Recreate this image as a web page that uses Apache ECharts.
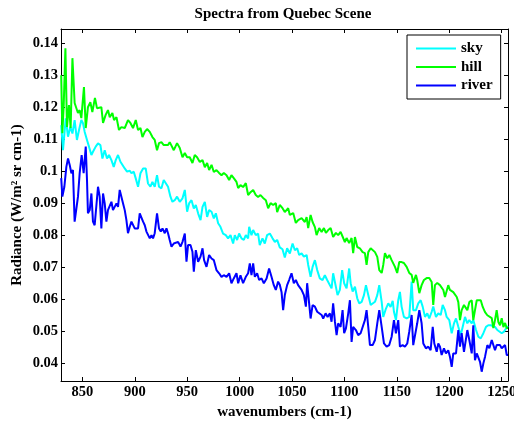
<!DOCTYPE html>
<html><head><meta charset="utf-8">
<script src="https://cdn.jsdelivr.net/npm/echarts@6/dist/echarts.min.js"></script>
<style>html,body{margin:0;padding:0;background:#fff}#c{width:514px;height:421px}</style>
</head><body><div id="c"></div>
<script>
const titleText = 'Spectra from Quebec Scene';
const xName = 'wavenumbers (cm-1)';
const yName = 'Radiance (W/m² sr cm-1)';
const seriesNames = ['sky', 'hill', 'river'];
const xTicks = [850, 900, 950, 1000, 1050, 1100, 1150, 1200, 1250];
const yTicks = [0.04, 0.05, 0.06, 0.07, 0.08, 0.09, 0.1, 0.11, 0.12, 0.13, 0.14];

const sky = [[829.8,0.1143],[831.5,0.1065],[834.1,0.1164],[836.3,0.1107],[838.5,0.1138],[840.5,0.1117],[842.6,0.1159],[844.8,0.1097],[846.8,0.1128],[849.0,0.1159],[850.6,0.1149],[852.2,0.1122],[854.4,0.1097],[856.3,0.1076],[858.6,0.105],[860.1,0.106],[862.7,0.1076],[864.9,0.1086],[867.2,0.1081],[869.1,0.1039],[871.3,0.1065],[873.5,0.1039],[875.4,0.105],[877.7,0.1034],[879.9,0.1013],[881.8,0.1034],[884.0,0.105],[886.3,0.1029],[888.2,0.1024],[890.4,0.1008],[892.6,0.0998],[895.2,0.1001],[896.8,0.0993],[899.0,0.0998],[900.9,0.0977],[903.1,0.0951],[905.4,0.0993],[907.9,0.1008],[910.4,0.1008],[912.6,0.0961],[914.9,0.0951],[916.8,0.0966],[919.0,0.0951],[921.2,0.0987],[923.1,0.0951],[925.4,0.0946],[927.6,0.0972],[929.5,0.0977],[931.7,0.0951],[934.0,0.092],[935.9,0.0904],[938.1,0.0909],[940.3,0.092],[942.9,0.0904],[945.5,0.0915],[947.7,0.0941],[949.9,0.0873],[951.8,0.0899],[954.1,0.0909],[956.3,0.0883],[958.2,0.0894],[960.4,0.0868],[962.7,0.0847],[964.6,0.0888],[966.8,0.0904],[969.0,0.0857],[970.9,0.0878],[973.2,0.0873],[975.4,0.0852],[977.3,0.0868],[979.5,0.0837],[981.7,0.0826],[984.2,0.0805],[986.8,0.08],[989.0,0.079],[991.3,0.08],[993.8,0.0774],[995.4,0.08],[997.6,0.0785],[999.5,0.0805],[1001.8,0.079],[1004.0,0.0785],[1005.9,0.08],[1008.1,0.079],[1009.1,0.0826],[1011.3,0.08],[1012.9,0.0816],[1015.4,0.08],[1017.6,0.0805],[1019.2,0.0769],[1021.8,0.079],[1024.0,0.0774],[1026.2,0.08],[1028.8,0.0805],[1031.4,0.079],[1033.6,0.0779],[1035.8,0.0785],[1038.3,0.0762],[1040.9,0.0756],[1043.1,0.073],[1045.3,0.0759],[1047.9,0.0743],[1050.5,0.0774],[1052.7,0.0753],[1054.9,0.0759],[1056.8,0.0738],[1059.1,0.0743],[1061.3,0.0733],[1063.9,0.0738],[1065.4,0.0707],[1067.7,0.067],[1069.6,0.0701],[1071.8,0.0722],[1074.0,0.0691],[1076.5,0.0665],[1079.1,0.066],[1081.3,0.0675],[1083.5,0.066],[1085.4,0.0665],[1087.7,0.0634],[1089.2,0.0681],[1091.5,0.0644],[1093.4,0.0613],[1095.6,0.0629],[1097.8,0.0691],[1099.7,0.065],[1102.0,0.0634],[1104.5,0.0696],[1105.9,0.065],[1107.8,0.0624],[1110.0,0.0639],[1112.2,0.0603],[1114.1,0.0587],[1116.4,0.0592],[1118.6,0.0613],[1120.5,0.0644],[1122.7,0.0613],[1125.0,0.0582],[1126.9,0.0587],[1129.1,0.0592],[1131.3,0.0613],[1133.2,0.0644],[1135.5,0.0592],[1137.0,0.0545],[1139.6,0.0571],[1141.8,0.0587],[1144.0,0.0576],[1146.0,0.0595],[1147.2,0.0561],[1149.1,0.0535],[1151.3,0.0597],[1152.9,0.0623],[1154.5,0.0577],[1156.7,0.0545],[1159.3,0.054],[1161.8,0.0545],[1164.1,0.0655],[1165.6,0.0566],[1168.2,0.0566],[1170.4,0.0587],[1172.7,0.0597],[1174.6,0.0577],[1176.8,0.0545],[1179.0,0.0556],[1180.9,0.054],[1183.2,0.0561],[1184.7,0.0577],[1187.3,0.0545],[1189.5,0.0556],[1191.8,0.0551],[1193.7,0.0582],[1195.9,0.0566],[1197.5,0.0545],[1200.0,0.0535],[1202.3,0.0494],[1204.5,0.0525],[1206.4,0.054],[1208.6,0.0514],[1210.9,0.0488],[1212.8,0.0514],[1215.0,0.0545],[1217.2,0.0525],[1219.1,0.0535],[1221.4,0.0525],[1222.9,0.0535],[1225.5,0.0504],[1227.7,0.0483],[1230.0,0.0478],[1232.5,0.0494],[1235.0,0.0514],[1237.2,0.0519],[1239.5,0.0519],[1241.4,0.0525],[1243.6,0.0514],[1245.8,0.0504],[1247.7,0.0499],[1250.0,0.0494],[1252.2,0.0499],[1254.1,0.0509],[1256.0,0.0516]];

const hill = [[829.8,0.1299],[830.9,0.1118],[832.2,0.1206],[833.8,0.1383],[835.3,0.1137],[837.2,0.1206],[838.8,0.1134],[840.5,0.1352],[842.6,0.1212],[844.3,0.1206],[845.8,0.1181],[847.4,0.119],[849.0,0.1165],[851.5,0.1262],[853.2,0.1134],[855.3,0.1199],[857.6,0.1215],[859.5,0.1184],[862.0,0.1228],[863.9,0.1196],[865.8,0.119],[868.1,0.1199],[869.7,0.115],[872.2,0.1175],[874.4,0.119],[876.1,0.1168],[878.6,0.1181],[880.2,0.1159],[882.5,0.1168],[884.9,0.1128],[887.2,0.1137],[890.4,0.1134],[893.5,0.1159],[895.8,0.115],[898.3,0.1134],[900.9,0.1159],[903.1,0.1128],[905.4,0.1134],[907.3,0.1106],[909.5,0.1122],[911.7,0.1131],[914.3,0.1122],[916.8,0.1106],[919.0,0.1097],[921.2,0.1065],[923.1,0.1087],[925.4,0.109],[927.6,0.1081],[929.5,0.1087],[931.7,0.1081],[933.3,0.109],[935.0,0.1094],[937.2,0.1065],[940.3,0.1087],[942.9,0.1072],[945.5,0.1043],[947.7,0.1056],[949.9,0.1043],[952.4,0.1043],[955.0,0.1025],[957.2,0.105],[959.4,0.1043],[962.0,0.1028],[964.6,0.1034],[966.8,0.1012],[969.0,0.1025],[970.9,0.1003],[973.2,0.1019],[975.4,0.0997],[977.9,0.1003],[980.4,0.0994],[982.7,0.0987],[984.9,0.0994],[987.5,0.0987],[990.0,0.0972],[992.2,0.0987],[994.4,0.0978],[997.0,0.0966],[998.6,0.0947],[1000.8,0.0956],[1003.3,0.095],[1005.9,0.0962],[1008.1,0.0925],[1010.4,0.0934],[1012.9,0.0941],[1015.4,0.0925],[1017.6,0.0919],[1019.9,0.0925],[1022.4,0.0916],[1025.0,0.0909],[1027.2,0.0884],[1029.5,0.09],[1032.0,0.0894],[1034.5,0.09],[1035.8,0.0872],[1038.3,0.0894],[1040.9,0.0884],[1043.1,0.0872],[1046.3,0.0884],[1047.9,0.0863],[1051.1,0.0869],[1053.6,0.0838],[1055.8,0.0847],[1059.1,0.0853],[1062.2,0.0841],[1063.9,0.0856],[1065.4,0.0822],[1067.7,0.0863],[1069.6,0.0841],[1071.8,0.0825],[1073.4,0.08],[1075.9,0.0822],[1078.2,0.081],[1080.4,0.0822],[1082.3,0.0807],[1084.5,0.0816],[1086.8,0.0822],[1089.2,0.0794],[1091.8,0.0807],[1094.0,0.08],[1096.3,0.081],[1098.8,0.0791],[1100.4,0.0778],[1102.0,0.0791],[1104.5,0.0775],[1106.8,0.0791],[1108.3,0.0744],[1110.0,0.0794],[1112.2,0.0763],[1114.7,0.0759],[1117.3,0.0747],[1119.5,0.0744],[1121.1,0.0707],[1122.7,0.0747],[1125.0,0.0759],[1126.9,0.0753],[1129.1,0.0747],[1131.3,0.0732],[1133.2,0.0691],[1135.5,0.0682],[1137.0,0.0707],[1138.6,0.0744],[1140.8,0.0728],[1142.8,0.0738],[1145.0,0.0722],[1148.2,0.0701],[1150.3,0.0682],[1152.3,0.0716],[1154.5,0.0716],[1156.7,0.0713],[1159.3,0.0701],[1161.8,0.0682],[1164.1,0.0676],[1165.6,0.0651],[1168.2,0.0676],[1169.4,0.066],[1171.4,0.0619],[1173.6,0.0644],[1175.8,0.066],[1178.4,0.0666],[1180.9,0.0666],[1183.2,0.0654],[1184.7,0.0582],[1186.3,0.0644],[1188.5,0.0651],[1191.1,0.0644],[1192.7,0.0638],[1194.3,0.0629],[1195.9,0.0607],[1197.5,0.0607],[1199.0,0.0644],[1200.6,0.0629],[1202.3,0.0629],[1203.8,0.0622],[1205.4,0.0619],[1207.1,0.0607],[1208.6,0.0591],[1210.2,0.0535],[1211.8,0.0566],[1214.0,0.0582],[1215.9,0.0588],[1217.2,0.0566],[1219.1,0.0591],[1221.4,0.0597],[1222.9,0.0535],[1224.5,0.0566],[1226.2,0.0597],[1227.7,0.0591],[1230.0,0.0597],[1231.9,0.0576],[1234.1,0.056],[1236.3,0.055],[1238.2,0.0544],[1240.5,0.0541],[1242.0,0.051],[1243.6,0.0535],[1245.2,0.0566],[1246.8,0.0529],[1248.4,0.0519],[1250.0,0.0541],[1251.6,0.0513],[1253.2,0.0526],[1254.8,0.051],[1256.0,0.051]];

const river = [[829.8,0.0978],[830.9,0.092],[832.8,0.0951],[834.7,0.1013],[836.3,0.1039],[837.9,0.1019],[839.5,0.0993],[841.0,0.1003],[842.6,0.0842],[844.3,0.0847],[845.8,0.092],[847.4,0.0993],[849.3,0.105],[851.2,0.0993],[853.2,0.1076],[854.4,0.0972],[855.3,0.0868],[857.0,0.0878],[858.6,0.093],[860.1,0.0842],[861.7,0.0831],[863.4,0.0894],[864.9,0.0951],[866.5,0.092],[868.1,0.0821],[869.7,0.093],[871.3,0.0899],[872.9,0.0842],[874.4,0.0878],[876.1,0.0873],[877.7,0.0904],[879.2,0.0878],[880.8,0.0883],[882.5,0.0899],[884.0,0.0888],[885.6,0.0941],[887.2,0.092],[888.8,0.0899],[890.4,0.0878],[892.0,0.0847],[893.5,0.0806],[895.2,0.0826],[896.8,0.0842],[898.3,0.0837],[899.9,0.0821],[901.6,0.0826],[903.1,0.0821],[904.7,0.0868],[906.3,0.0873],[907.9,0.0842],[909.5,0.0831],[911.1,0.0811],[912.6,0.0811],[914.3,0.079],[915.9,0.08],[917.4,0.079],[919.0,0.0806],[921.2,0.0868],[923.1,0.0821],[924.8,0.0811],[926.4,0.0821],[928.6,0.0806],[930.2,0.0821],[931.7,0.0806],[933.3,0.0785],[935.0,0.0764],[937.2,0.0774],[939.1,0.0769],[941.3,0.0779],[943.6,0.0764],[945.5,0.0779],[947.7,0.0805],[949.3,0.0717],[950.8,0.0769],[953.1,0.0769],[955.0,0.0748],[956.3,0.0686],[958.2,0.0753],[960.4,0.0717],[962.7,0.0733],[964.6,0.0759],[966.1,0.0722],[968.4,0.0701],[970.9,0.0738],[973.2,0.0727],[975.4,0.0722],[977.9,0.0691],[980.4,0.0681],[982.7,0.067],[984.9,0.0675],[987.5,0.067],[990.0,0.0681],[992.2,0.065],[994.4,0.0665],[997.0,0.0681],[998.6,0.065],[1000.8,0.0675],[1003.3,0.065],[1005.9,0.067],[1008.1,0.0681],[1009.7,0.0712],[1011.3,0.0675],[1012.9,0.0712],[1014.5,0.067],[1016.7,0.0681],[1018.6,0.066],[1020.9,0.0665],[1023.1,0.065],[1025.7,0.0665],[1028.1,0.0696],[1030.4,0.067],[1032.6,0.0644],[1034.5,0.0629],[1036.7,0.0655],[1038.3,0.0645],[1040.0,0.0622],[1041.5,0.0566],[1043.1,0.0613],[1045.3,0.0644],[1047.2,0.066],[1049.5,0.0681],[1051.7,0.065],[1053.6,0.066],[1055.8,0.0644],[1057.4,0.0644],[1059.1,0.0629],[1061.3,0.0613],[1063.2,0.0577],[1064.4,0.065],[1066.3,0.0587],[1067.7,0.054],[1069.6,0.0582],[1071.8,0.0577],[1074.0,0.0561],[1075.9,0.0556],[1078.2,0.0551],[1079.7,0.054],[1082.0,0.0556],[1083.9,0.0545],[1086.1,0.0556],[1087.7,0.053],[1089.2,0.0587],[1090.9,0.053],[1092.5,0.0488],[1094.0,0.0525],[1096.3,0.0514],[1098.2,0.0566],[1099.7,0.0494],[1101.4,0.0509],[1103.6,0.0556],[1105.2,0.0597],[1106.8,0.0467],[1108.3,0.0514],[1110.9,0.0504],[1113.1,0.0488],[1115.4,0.0494],[1117.3,0.0488],[1119.5,0.0535],[1121.1,0.0566],[1122.7,0.0514],[1124.3,0.0457],[1126.9,0.0457],[1129.1,0.0473],[1131.3,0.0525],[1133.2,0.0566],[1135.5,0.0514],[1137.7,0.0462],[1140.2,0.0452],[1142.7,0.0457],[1145.0,0.0483],[1147.2,0.0535],[1149.1,0.0494],[1151.3,0.0535],[1152.9,0.0452],[1155.5,0.0457],[1157.7,0.0452],[1159.9,0.0462],[1161.8,0.0499],[1164.1,0.0551],[1165.6,0.0457],[1167.3,0.0457],[1169.4,0.0525],[1171.4,0.0566],[1173.6,0.0525],[1175.2,0.0462],[1177.7,0.0447],[1180.0,0.0452],[1182.2,0.0441],[1184.2,0.0514],[1185.7,0.0462],[1188.0,0.0436],[1189.5,0.0462],[1191.1,0.0452],[1192.7,0.0426],[1194.9,0.0447],[1196.8,0.0431],[1199.0,0.0441],[1200.6,0.0421],[1202.3,0.0389],[1203.8,0.0431],[1206.4,0.0431],[1208.6,0.0504],[1210.2,0.0452],[1211.8,0.0494],[1214.0,0.0436],[1215.9,0.0441],[1217.2,0.0504],[1219.1,0.0473],[1221.4,0.0431],[1222.9,0.0519],[1224.5,0.041],[1226.2,0.0431],[1227.7,0.0436],[1229.3,0.0405],[1230.9,0.0374],[1232.5,0.04],[1234.1,0.0421],[1236.3,0.0457],[1238.2,0.0447],[1240.5,0.0473],[1242.0,0.0473],[1243.6,0.0441],[1245.2,0.0457],[1246.8,0.0452],[1248.4,0.0457],[1250.0,0.0447],[1251.6,0.0447],[1253.2,0.0457],[1254.8,0.0426],[1256.0,0.0426]];

const seriesData = [sky, hill, river];
const seriesColors = ['#00ffff', '#00ff00', '#0000ff'];

const FONT = 'Liberation Serif';
const txt = {fontFamily: FONT, fontWeight: 'bold', fontSize: 15, color: '#000'};
const tickTxt = {fontFamily: FONT, fontWeight: 'bold', fontSize: 14.5, color: '#000'};
const xMin = 829.6, xMax = 1256, yMin = 0.0345, yMax = 0.1443;

function xAx(pos, labels) {
  return {
    type: 'value', position: pos, min: xMin, max: xMax,
    axisLine: {show: true, onZero: false, lineStyle: {color: '#000', width: 1}},
    axisTick: {show: true, inside: true, length: 4, customValues: xTicks, lineStyle: {color: '#000', width: 1}},
    axisLabel: labels ? Object.assign({customValues: xTicks, margin: 4, formatter: v => String(v)}, tickTxt) : {show: false},
    splitLine: {show: false},
    name: labels ? xName : '', nameLocation: 'middle', nameGap: 24, nameMoveOverlap: false,
    nameTextStyle: Object.assign({}, txt)
  };
}
function yAx(pos, labels) {
  return {
    type: 'value', position: pos, min: yMin, max: yMax,
    axisLine: {show: true, onZero: false, lineStyle: {color: '#000', width: 1}},
    axisTick: {show: true, inside: true, length: 4, customValues: yTicks, lineStyle: {color: '#000', width: 1}},
    axisLabel: labels ? Object.assign({customValues: yTicks, margin: 3, formatter: v => String(v)}, tickTxt) : {show: false},
    splitLine: {show: false},
    name: labels ? yName : '', nameLocation: 'middle', nameGap: 36, nameMoveOverlap: false,
    nameTextStyle: Object.assign({}, txt)
  };
}

const chart = echarts.init(document.getElementById('c'), null, {renderer: 'canvas'});
chart.setOption({
  animation: false,
  backgroundColor: '#fff',
  title: {text: titleText, left: 283, top: 7, padding: 0, textAlign: 'center',
    textStyle: {fontFamily: FONT, fontWeight: 'bold', fontSize: 15, color: '#000'}},
  grid: {left: 61, right: 6, top: 29, bottom: 40, containLabel: false, outerBoundsMode: 'none'},
  legend: {
    orient: 'vertical', left: 407, top: 35, padding: [6, 8, 6, 8],
    itemWidth: 40, itemHeight: 15, itemGap: 3.5,
    borderColor: '#000', borderWidth: 1, backgroundColor: '#fff',
    itemStyle: {opacity: 0},
    textStyle: Object.assign({}, txt), data: seriesNames
  },
  xAxis: [xAx('bottom', true), xAx('top', false)],
  yAxis: [yAx('left', true), yAx('right', false)],
  series: seriesNames.map((n, i) => ({
    name: n, type: 'line', data: seriesData[i], symbol: 'none', showSymbol: false,
    lineStyle: {width: 2, color: seriesColors[i]}, itemStyle: {color: seriesColors[i]},
    xAxisIndex: 0, yAxisIndex: 0, z: 2 + i
  }))
});
</script></body></html>
